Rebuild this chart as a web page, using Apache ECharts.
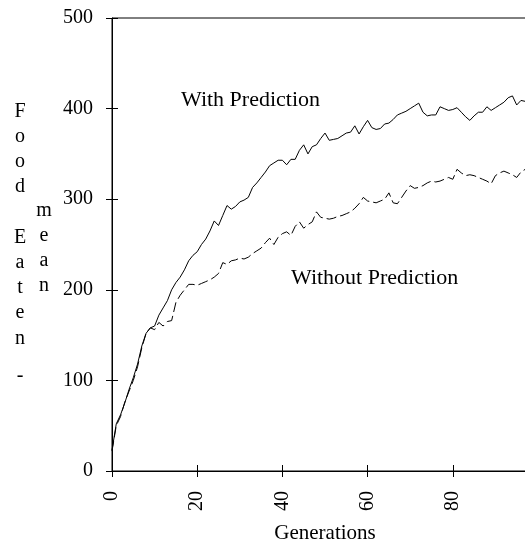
<!DOCTYPE html>
<html>
<head>
<meta charset="utf-8">
<script src="https://cdn.jsdelivr.net/npm/echarts@6/dist/echarts.min.js"></script>
<style>
  html, body { margin: 0; padding: 0; background: #fff; overflow: hidden; }
  /* the original figure is cut off on the right, so the chart is a bit wider than the window */
  #chart { width: 538px; height: 549px; }
</style>
</head>
<body>
<div id="chart"></div>
<script>
// mean food eaten per generation (index = generation)
var withPrediction = [
  23, 52, 62, 75, 90, 103, 118, 138, 152, 158,
  160, 172, 180, 188, 200, 208, 214, 222, 232, 238,
  242, 250, 256, 265, 276, 271, 282, 293, 289, 292,
  297, 299, 302, 313, 318, 324, 330, 337, 340, 343,
  343, 338, 344, 344, 354, 360, 350, 358, 360, 367,
  373, 365, 366, 367, 370, 373, 374, 381, 372, 380,
  387, 379, 377, 378, 383, 384, 388, 393, 395, 397,
  400, 403, 406, 396, 392, 393, 393, 402, 400, 398,
  399, 401, 396, 391, 387, 392, 396, 396, 402, 398,
  401, 404, 407, 412, 414, 404, 409, 408, 410, 411
];
var withoutPrediction = [
  22, 50, 60, 76, 88, 100, 115, 136, 152, 158,
  156, 164, 160, 165, 166, 186, 194, 200, 206, 206,
  205, 207, 209, 211, 214, 218, 230, 228, 232, 233,
  235, 234, 236, 240, 243, 246, 252, 257, 250, 258,
  262, 264, 260, 270, 275, 268, 272, 275, 286, 280,
  279, 278, 279, 281, 282, 284, 286, 290, 295, 302,
  298, 297, 296, 298, 300, 307, 296, 295, 302, 309,
  315, 312, 313, 315, 318, 320, 319, 320, 322, 324,
  322, 333, 329, 326, 327, 326, 324, 322, 320, 317,
  326, 329, 331, 329, 327, 324, 330, 333, 332, 334
];
var xTicks = { min: 0, max: 100, interval: 20 };
var yTicks = { min: 0, max: 500, interval: 100 };

function pairs(values) {
  return values.map(function (v, i) { return [i, v]; });
}

var serif = '"Liberation Serif", "Times New Roman", serif';
var chart = echarts.init(document.getElementById('chart'));

var option = {
  animation: false,
  backgroundColor: '#fff',
  grid: {
    left: 112,
    top: 18,
    right: 0,
    bottom: 71,
    show: true,
    borderColor: '#000',
    borderWidth: 1,
    backgroundColor: 'transparent'
  },
  xAxis: [
    {
      type: 'value',
      min: xTicks.min,
      max: xTicks.max,
      interval: xTicks.interval,
      name: 'Generations',
      nameLocation: 'middle',
      nameGap: 52,
      nameTextStyle: { fontFamily: serif, fontSize: 21, color: '#000' },
      axisLine: { lineStyle: { color: '#000', width: 1 } },
      axisTick: { length: 6, lineStyle: { color: '#000' } },
      axisLabel: {
        rotate: 90,
        margin: 20,
        fontFamily: serif,
        fontSize: 20,
        color: '#000',
        showMaxLabel: false
      },
      splitLine: { show: false }
    },
    {
      type: 'value',
      position: 'bottom',
      min: xTicks.min,
      max: xTicks.max,
      interval: xTicks.interval,
      axisLine: { show: false },
      axisTick: { inside: true, length: 6, lineStyle: { color: '#000' } },
      axisLabel: { show: false },
      splitLine: { show: false }
    }
  ],
  yAxis: [
    {
      type: 'value',
      min: yTicks.min,
      max: yTicks.max,
      interval: yTicks.interval,
      axisLine: { show: true, lineStyle: { color: '#000', width: 1 } },
      axisTick: { show: true, length: 6, lineStyle: { color: '#000' } },
      axisLabel: { margin: 19, fontFamily: serif, fontSize: 20, color: '#000' },
      splitLine: { show: false }
    },
    {
      type: 'value',
      position: 'left',
      min: yTicks.min,
      max: yTicks.max,
      interval: yTicks.interval,
      axisLine: { show: false },
      axisTick: { show: true, inside: true, length: 6, lineStyle: { color: '#000' } },
      axisLabel: { show: false },
      splitLine: { show: false }
    }
  ],
  series: [
    {
      name: 'With Prediction',
      type: 'line',
      data: pairs(withPrediction),
      showSymbol: false,
      lineStyle: { color: '#000', width: 1 }
    },
    {
      name: 'Without Prediction',
      type: 'line',
      data: pairs(withoutPrediction),
      showSymbol: false,
      lineStyle: { color: '#000', width: 1, type: [10, 4] }
    }
  ],
  graphic: [
    {
      type: 'text', x: 181, y: 100,
      style: { text: 'With Prediction', font: '22px ' + serif, fill: '#000', align: 'left', verticalAlign: 'middle' }
    },
    {
      type: 'text', x: 291, y: 278,
      style: { text: 'Without Prediction', font: '22px ' + serif, fill: '#000', align: 'left', verticalAlign: 'middle' }
    },
    {
      type: 'text', x: 20, y: 99,
      style: { text: 'F\no\no\nd\n\nE\na\nt\ne\nn', font: '20px ' + serif, lineHeight: 25.2, fill: '#000', align: 'center', verticalAlign: 'top' }
    },
    {
      type: 'text', x: 20, y: 376,
      style: { text: '-', font: '20px ' + serif, fill: '#000', align: 'center', verticalAlign: 'middle' }
    },
    {
      type: 'text', x: 44, y: 198,
      style: { text: 'm\ne\na\nn', font: '20px ' + serif, lineHeight: 25.2, fill: '#000', align: 'center', verticalAlign: 'top' }
    }
  ]
};

chart.setOption(option);
</script>
</body>
</html>
